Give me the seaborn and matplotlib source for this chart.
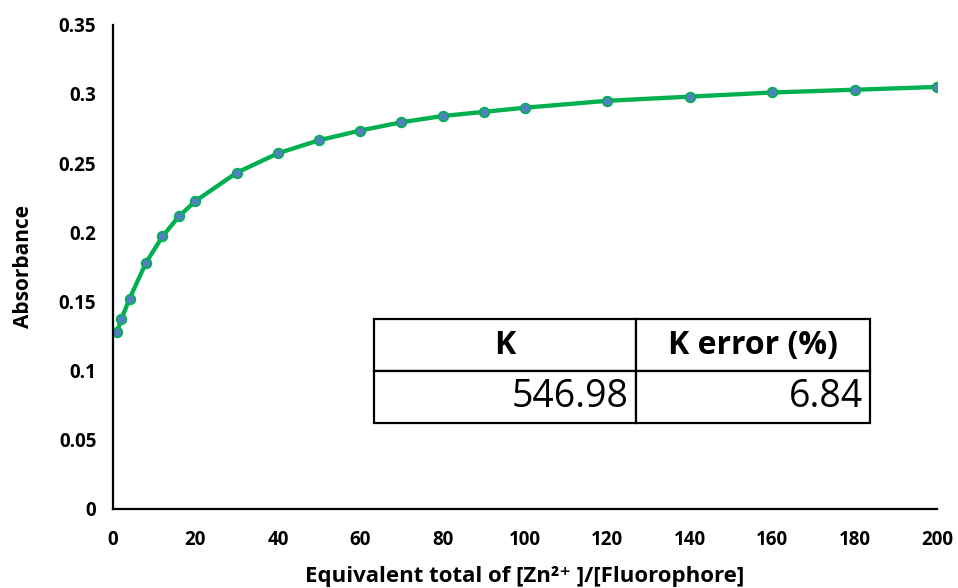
import matplotlib
matplotlib.use("Agg")
import matplotlib.pyplot as plt
import seaborn as sns
import pandas as pd

# Titration data: equivalents of Zn2+ vs absorbance
equivalents = [1, 2, 4, 8, 12, 16, 20, 30, 40, 50, 60, 70, 80, 90, 100,
               120, 140, 160, 180, 200]
absorbance = [0.128, 0.137, 0.152, 0.178, 0.197, 0.2115, 0.2225, 0.243,
              0.257, 0.2665, 0.2735, 0.2795, 0.284, 0.287, 0.290,
              0.295, 0.298, 0.301, 0.303, 0.305]

# Fit results table
table_header = ["K", "K error (%)"]
table_values = ["546.98", "6.84"]

x_ticks = [0, 20, 40, 60, 80, 100, 120, 140, 160, 180, 200]
y_ticks = [0, 0.05, 0.1, 0.15, 0.2, 0.25, 0.3, 0.35]
y_tick_labels = ["0", "0.05", "0.1", "0.15", "0.2", "0.25", "0.3", "0.35"]

sns.set_style("white")
plt.rcParams["font.family"] = ["Open Sans", "DejaVu Sans"]
plt.rcParams.update({"text.color": "black", "axes.labelcolor": "black",
                     "xtick.color": "black", "ytick.color": "black"})

df = pd.DataFrame({"eq": equivalents, "abs": absorbance})

fig = plt.figure(figsize=(9.58, 5.88), dpi=100)
ax = fig.add_axes([0.118, 0.1344, 0.860, 0.8236])

sns.lineplot(data=df, x="eq", y="abs", ax=ax, color="#00B050",
             linewidth=3.1, marker="o", markersize=7,
             markerfacecolor="#4F81BD", markeredgecolor="#00B050",
             markeredgewidth=1.2)

ax.set_xlim(0, 200)
ax.set_ylim(0, 0.35)
ax.set_xticks(x_ticks)
ax.set_xticklabels([str(t) for t in x_ticks])
ax.set_yticks(y_ticks)
ax.set_yticklabels(y_tick_labels)

for side in ["top", "right"]:
    ax.spines[side].set_visible(False)
for side in ["left", "bottom"]:
    ax.spines[side].set_color("black")
    ax.spines[side].set_linewidth(1.6)

ax.tick_params(axis="both", direction="out", length=5, width=1.6,
               color="black", labelcolor="black", labelsize=13.5)
ax.tick_params(axis="x", pad=10)
ax.tick_params(axis="y", pad=7)
for lab in ax.get_xticklabels() + ax.get_yticklabels():
    lab.set_fontweight("bold")

ax.set_xlabel("Equivalent total of [Zn\u00b2\u207a ]/[Fluorophore]",
              fontsize=16, fontweight="bold", labelpad=12, color="black")
ax.set_ylabel("Absorbance", fontsize=15, fontweight="bold", labelpad=18,
              color="black")

# K / K error table inside the plot area
tbl = ax.table(cellText=[table_values], colLabels=table_header,
               cellLoc="right", colLoc="center",
               colWidths=[262, 234],
               bbox=[0.3168, 0.177, 0.6019, 0.2147])
tbl.auto_set_font_size(False)
for (row, col), cell in tbl.get_celld().items():
    cell.set_edgecolor("black")
    cell.set_linewidth(1.6)
    cell.PAD = 0.03
    txt = cell.get_text()
    txt.set_color("black")
    if row == 0:
        txt.set_fontsize(23)
        txt.set_fontweight("bold")
    else:
        txt.set_fontsize(27)
        txt.set_fontweight("normal")

fig.savefig("out.png", dpi=100)
